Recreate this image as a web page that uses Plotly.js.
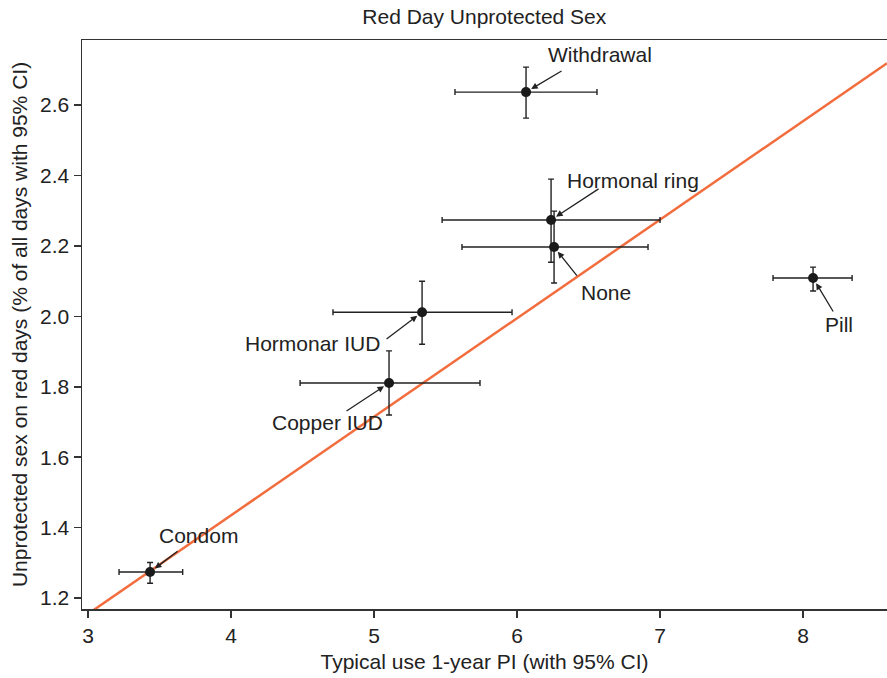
<!DOCTYPE html>
<html>
<head>
<meta charset="utf-8">
<script src="https://cdn.plot.ly/plotly-3.0.1.min.js"></script>
<style>html,body{margin:0;padding:0;background:#fff;}#chart{width:887px;height:678px;}</style>
</head>
<body>
<div id="chart"></div>
<script>
// Data
var methods = ["Condom", "Copper IUD", "Hormonar IUD", "Hormonal ring", "None", "Withdrawal", "Pill"];
var pearlIndex = [3.434, 5.105, 5.336, 6.238, 6.259, 6.063, 8.070];
var piLower = [3.217, 4.483, 4.713, 5.476, 5.615, 5.566, 7.790];
var piUpper = [3.662, 5.741, 5.965, 7.000, 6.916, 6.559, 8.343];
var redDaySex = [1.274, 1.811, 2.012, 2.274, 2.197, 2.637, 2.109];
var sexLower = [1.242, 1.720, 1.921, 2.154, 2.095, 2.563, 2.072];
var sexUpper = [1.301, 1.902, 2.100, 2.390, 2.299, 2.708, 2.140];
var fitSlope = 0.2799;
var fitIntercept = 0.3154;

var xRange = [2.958, 8.587];
var yRange = [1.169, 2.785];

// label layout (pixel offsets from each point): arrow tail and text centre
var arrowOff = [[29, -22], [-44, 29], [-37, 28], [49, -32], [24, 30], [37, -22], [21, 35]];
var textOff = [[48, -37], [-62, 40], [-110, 31], [82, -39], [52, 45], [74, -38], [26, 46]];

var ink = "#222222";
var fnt = {family: "Liberation Sans, Arial, Helvetica, sans-serif", size: 21, color: ink};

var errPlus = function (v, up) { return up.map(function (u, i) { return u - v[i]; }); };
var errMinus = function (v, lo) { return lo.map(function (l, i) { return v[i] - l; }); };

var fitX = xRange.slice();
var fitY = fitX.map(function (x) { return fitIntercept + fitSlope * x; });

var traces = [
  {
    x: fitX, y: fitY, mode: "lines", type: "scatter",
    line: {color: "#F26D3D", width: 2.5}, hoverinfo: "skip", showlegend: false
  },
  {
    x: pearlIndex, y: redDaySex, mode: "markers", type: "scatter", text: methods,
    marker: {color: "#1a1a1a", size: 10},
    error_x: {type: "data", symmetric: false, array: errPlus(pearlIndex, piUpper), arrayminus: errMinus(pearlIndex, piLower), color: ink, thickness: 1.4, width: 3},
    error_y: {type: "data", symmetric: false, array: errPlus(redDaySex, sexUpper), arrayminus: errMinus(redDaySex, sexLower), color: ink, thickness: 1.4, width: 3},
    showlegend: false
  }
];

var annotations = [];
methods.forEach(function (m, i) {
  annotations.push({
    x: pearlIndex[i], y: redDaySex[i], xref: "x", yref: "y",
    text: "", showarrow: true, ax: arrowOff[i][0], ay: arrowOff[i][1],
    arrowhead: 2, arrowsize: 1, arrowwidth: 1.3, arrowcolor: ink, standoff: 6
  });
  annotations.push({
    x: pearlIndex[i], y: redDaySex[i], xref: "x", yref: "y",
    text: m, showarrow: false, xanchor: "center", yanchor: "middle",
    xshift: textOff[i][0], yshift: -textOff[i][1], font: fnt
  });
});

var layout = {
  width: 887, height: 678,
  margin: {l: 82, r: 0, t: 40, b: 69, pad: 0},
  paper_bgcolor: "#ffffff", plot_bgcolor: "#ffffff",
  font: fnt,
  title: {text: "Red Day Unprotected Sex", font: fnt, x: 0.546, xanchor: "center", y: 0.975, yanchor: "middle"},
  xaxis: {
    range: xRange, tickvals: [3, 4, 5, 6, 7, 8], ticktext: ["3", "4", "5", "6", "7", "8"],
    ticks: "outside", ticklen: 7, tickwidth: 1.5, tickcolor: "#333",
    showline: true, linecolor: "#333", linewidth: 1.5, mirror: true,
    showgrid: false, zeroline: false, tickfont: fnt,
    title: {text: "Typical use 1-year PI (with 95% CI)", font: fnt, standoff: 8}
  },
  yaxis: {
    range: yRange, tickvals: [1.2, 1.4, 1.6, 1.8, 2.0, 2.2, 2.4, 2.6], ticktext: ["1.2", "1.4", "1.6", "1.8", "2.0", "2.2", "2.4", "2.6"],
    ticks: "outside", ticklen: 7, tickwidth: 1.5, tickcolor: "#333",
    showline: true, linecolor: "#333", linewidth: 1.5,
    showgrid: false, zeroline: false, tickfont: fnt,
    title: {text: "Unprotected sex on red days (% of all days with 95% CI)", font: fnt, standoff: 6}
  },
  annotations: annotations
};

Plotly.newPlot("chart", traces, layout, {staticPlot: true, displayModeBar: false});
</script>
</body>
</html>
